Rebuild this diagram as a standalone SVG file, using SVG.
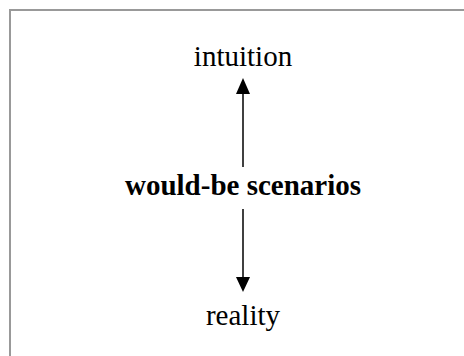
<svg xmlns="http://www.w3.org/2000/svg" width="464" height="356" viewBox="0 0 464 356">
<style>
text{font-family:"Liberation Serif","Times New Roman",serif;font-size:29px;fill:#000;text-anchor:middle}
.b{font-weight:bold}
.c{stroke:#000;stroke-width:1.5;fill:none}
</style>
<rect width="464" height="356" fill="#fff"/>
<path d="M10,356 V10 H464" stroke="#999" stroke-width="2" fill="none"/>
<g id="intuition"><text x="243" y="66">intuition</text></g>
<g id="scenarios"><text class="b" x="243" y="195">would-be scenarios</text></g>
<g id="reality"><text x="243" y="325">reality</text></g>
<g id="connectors">
<line class="c" x1="243" y1="167" x2="243" y2="94"/>
<polygon points="243,78 236,94 250,94" fill="#000"/>
<line class="c" x1="243" y1="209" x2="243" y2="277"/>
<polygon points="243,292 236,277 250,277" fill="#000"/>
</g>
</svg>
